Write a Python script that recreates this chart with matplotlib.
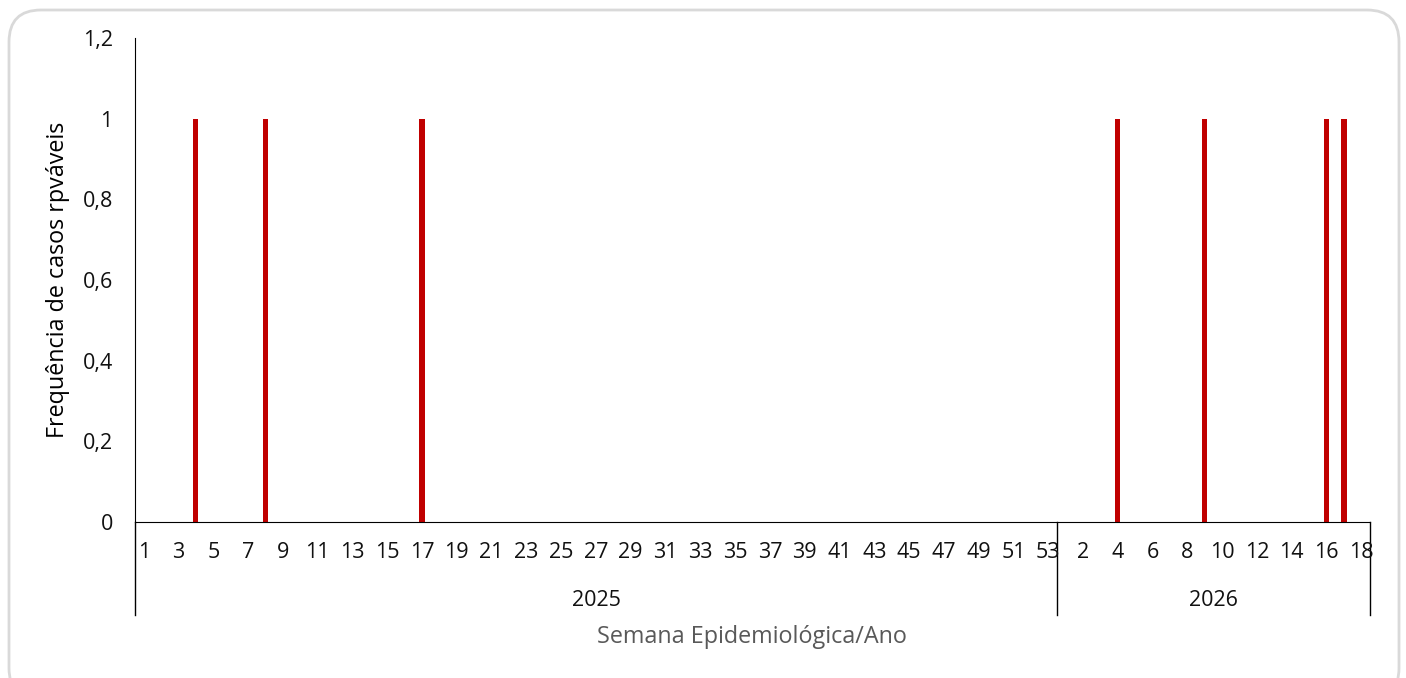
import matplotlib
matplotlib.use("Agg")
import matplotlib.pyplot as plt
from matplotlib.patches import FancyBboxPatch
import matplotlib.transforms as mtransforms

# === Data === #
weeks_2025 = list(range(1, 54))
cases_2025 = [0, 0, 0, 1, 0, 0, 0, 1, 0, 0,
              0, 0, 0, 0, 0, 0, 1, 0, 0, 0,
              0, 0, 0, 0, 0, 0, 0, 0, 0, 0,
              0, 0, 0, 0, 0, 0, 0, 0, 0, 0,
              0, 0, 0, 0, 0, 0, 0, 0, 0, 0,
              0, 0, 0]
weeks_2026 = list(range(1, 19))
cases_2026 = [0, 0, 0, 1, 0, 0, 0, 0, 1, 0,
              0, 0, 0, 0, 0, 1, 1, 0]
years = ["2025", "2026"]
y_ticks = [0, 0.2, 0.4, 0.6, 0.8, 1.0, 1.2]

week_labels = weeks_2025 + weeks_2026
values = cases_2025 + cases_2026
positions = list(range(len(values)))

plt.rcParams['font.family'] = ['Open Sans', 'DejaVu Sans']

W, H = 1406, 678
fig = plt.figure(figsize=(W / 100, H / 100), dpi=100)

# === Rounded card in the background (pixel coords) === #
bg = fig.add_axes([0, 0, 1, 1], zorder=-1)
bg.set_xlim(0, W)
bg.set_ylim(H, 0)
bg.axis('off')
bg.add_patch(FancyBboxPatch((9, 10), 1390, 690,
                            boxstyle="round,pad=0,rounding_size=32",
                            facecolor='white', edgecolor='#d9d9d9', linewidth=2))

# === Main axes === #
ax = fig.add_axes([135 / W, 1 - 522 / H, (1370 - 135) / W, (522 - 38) / H])
ax.set_facecolor('none')
ax.bar(positions, values, width=0.3, color='#C00000')

ax.set_xlim(-0.5, len(values) - 0.5)
ax.set_ylim(0, 1.2)
ax.set_yticks(y_ticks)
ax.set_yticklabels([("%g" % v).replace('.', ',') for v in y_ticks],
                   fontsize=15.5, color='#111111')
ax.tick_params(axis='y', length=0, pad=16)
ax.set_xticks([])

for s in ['top', 'right']:
    ax.spines[s].set_visible(False)
ax.spines['left'].set_color('black')
ax.spines['bottom'].set_color('black')

# category labels (every other week)
trans = mtransforms.blended_transform_factory(ax.transData, ax.transAxes)
label_y = -(553 - 522) / 484
for i in range(0, len(values), 2):
    ax.text(positions[i], label_y, str(week_labels[i]), transform=trans,
            ha='center', va='center', fontsize=15.5, color='#111111')

# year groups with separators
bottom_y = -(615 - 522) / 484
year_y = -(601 - 522) / 484
n25 = len(weeks_2025)
bounds = [-0.5, n25 - 0.5, len(values) - 0.5]
for b in bounds:
    ax.plot([b, b], [0, bottom_y], transform=trans, color='black',
            linewidth=1, clip_on=False)
for k, yr in enumerate(years):
    ax.text((bounds[k] + bounds[k + 1]) / 2, year_y, yr, transform=trans,
            ha='center', va='center', fontsize=15.5, color='#111111')

ax.set_ylabel("Frequência de casos rpváveis", fontsize=16.8, color='black')
ax.yaxis.set_label_coords(-(135 - 70) / 1235, 0.5)
fig.text(752 / W, 1 - 637 / H, "Semana Epidemiológica/Ano", ha='center',
         va='center', fontsize=16.8, color='#595959')

fig.savefig("out.png", dpi=100)
